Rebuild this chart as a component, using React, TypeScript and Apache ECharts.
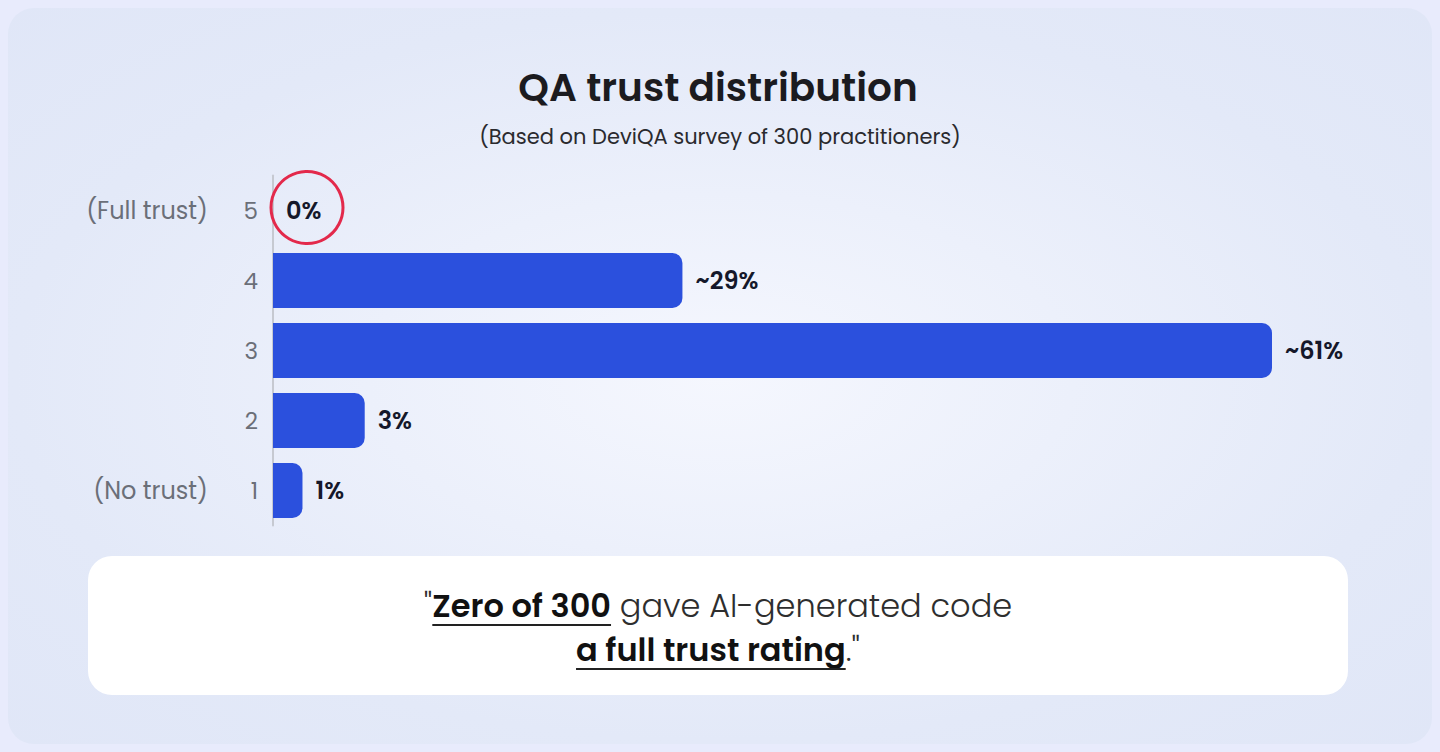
import React, { useEffect, useRef } from "react";
import * as echarts from "echarts";

// ---- data ----
const trustLevels = ["1", "2", "3", "4", "5"];
const trustNotes = ["(No trust)", "", "", "", "(Full trust)"];
const shareLabels = ["1%", "3%", "~61%", "~29%", "0%"];
// bar lengths as drawn in the reference (bars are not strictly proportional to labels)
const barLength = [1.8, 5.6, 61, 25, 0];
const titleText = "QA trust distribution";
const subtitleText = "(Based on DeviQA survey of 300 practitioners)";
const quoteLine1 = [
  { t: "\"", bold: false, u: false },
  { t: "Zero of 300", bold: true, u: true },
  { t: " gave AI-generated code", bold: false, u: false },
];
const quoteLine2 = [
  { t: "a full trust rating", bold: true, u: true },
  { t: ".\"", bold: false, u: false },
];

const FONT = "Poppins, Inter, 'Noto Sans', sans-serif";
const QUOTE_SIZE = 32;
const BOLD_W = 600;
const REG_W = 300;

function measure(ctx: CanvasRenderingContext2D, text: string, bold: boolean) {
  ctx.font = `${bold ? BOLD_W : REG_W} ${QUOTE_SIZE}px ${FONT}`;
  return ctx.measureText(text).width;
}

function buildQuote(ctx: CanvasRenderingContext2D, parts: any[], cx: number, cy: number, uy: number) {
  const widths = parts.map((p) => measure(ctx, p.t, p.bold));
  const total = widths.reduce((a, b) => a + b, 0);
  let x = cx - total / 2;
  const els: any[] = [];
  parts.forEach((p, i) => {
    els.push({
      type: "text",
      x,
      y: cy,
      z: 20,
      style: {
        text: p.t,
        fontFamily: FONT,
        fontSize: QUOTE_SIZE,
        fontWeight: p.bold ? BOLD_W : REG_W,
        fill: p.bold ? "#111111" : "#2e2e2e",
        align: "left",
        verticalAlign: "middle",
      },
    });
    if (p.u) {
      els.push({
        type: "line",
        z: 20,
        shape: { x1: x, y1: uy, x2: x + widths[i], y2: uy },
        style: { stroke: "#222222", lineWidth: 2 },
      });
    }
    x += widths[i];
  });
  return els;
}

export default function App() {
  const ref = useRef<HTMLDivElement>(null);
  useEffect(() => {
    if (!ref.current) return;
    const chart = echarts.init(ref.current, null, { renderer: "svg" });
    const canvas = document.createElement("canvas");
    const ctx = canvas.getContext("2d") as CanvasRenderingContext2D;

    const graphic: any[] = [
      {
        type: "rect",
        z: -10,
        shape: { x: 8, y: 8, width: 1424, height: 736, r: 26 },
        style: {
          fill: {
            type: "radial",
            x: 0.5,
            y: 0.5,
            r: 1.1,
            colorStops: [
              { offset: 0, color: "#f5f7fe" },
              { offset: 0.45, color: "#e3e9f8" },
              { offset: 0.88, color: "#dce3f6" },
              { offset: 1, color: "#d4ddf3" },
            ],
          },
        },
      },
      {
        type: "text",
        x: 718,
        y: 87,
        z: 10,
        style: {
          text: titleText,
          fontFamily: FONT,
          fontSize: 39,
          fontWeight: 600,
          fill: "#1b1b1f",
          align: "center",
          verticalAlign: "middle",
        },
      },
      {
        type: "text",
        x: 720,
        y: 136,
        z: 10,
        style: {
          text: subtitleText,
          fontFamily: FONT,
          fontSize: 21,
          fill: "#2a2a2e",
          align: "center",
          verticalAlign: "middle",
        },
      },
      {
        type: "rect",
        z: 5,
        shape: { x: 88, y: 556, width: 1260, height: 139, r: 24 },
        style: { fill: "#ffffff" },
      },
      ...buildQuote(ctx, quoteLine1, 718, 605, 625),
      ...buildQuote(ctx, quoteLine2, 718, 649, 669),
    ];

    chart.setOption({
      animation: false,
      backgroundColor: "#e8ebfc",
      graphic,
      grid: { left: 273, right: 168, top: 175.5, height: 350, containLabel: false },
      xAxis: { type: "value", min: 0, max: 61, show: false },
      yAxis: [
        {
          type: "category",
          data: trustLevels,
          axisLine: { show: true, lineStyle: { color: "#c6c9d1", width: 2 } },
          axisTick: { show: false },
          splitLine: { show: false },
          axisLabel: { color: "#6b6f78", fontSize: 23, margin: 15, fontFamily: FONT },
        },
        {
          type: "category",
          data: trustLevels,
          position: "left",
          offset: 50,
          axisLine: { show: false },
          axisTick: { show: false },
          splitLine: { show: false },
          axisLabel: {
            color: "#6b6f78",
            fontSize: 24,
            margin: 15,
            fontFamily: FONT,
            formatter: (_v: string, i: number) => trustNotes[i],
          },
        },
      ],
      series: [
        {
          type: "bar",
          yAxisIndex: 0,
          data: barLength,
          barWidth: 55,
          itemStyle: { color: "#2b50dd", borderRadius: [0, 10, 10, 0] },
          label: {
            show: true,
            position: "right",
            distance: 13,
            formatter: (p: any) => shareLabels[p.dataIndex],
            fontFamily: FONT,
            fontWeight: 600,
            fontSize: 24,
            color: "#15182a",
          },
          markPoint: {
            symbol: "circle",
            symbolSize: 72,
            symbolOffset: [34, -3],
            silent: true,
            label: { show: false },
            itemStyle: { color: "rgba(0,0,0,0)", borderColor: "#e3294b", borderWidth: 3 },
            data: [{ coord: [0, "5"] }],
          },
        },
      ],
    });
    return () => chart.dispose();
  }, []);
  return (
    <div
      ref={ref}
      style={{ position: "fixed", left: 0, top: 0, width: 1440, height: 752 }}
    />
  );
}
